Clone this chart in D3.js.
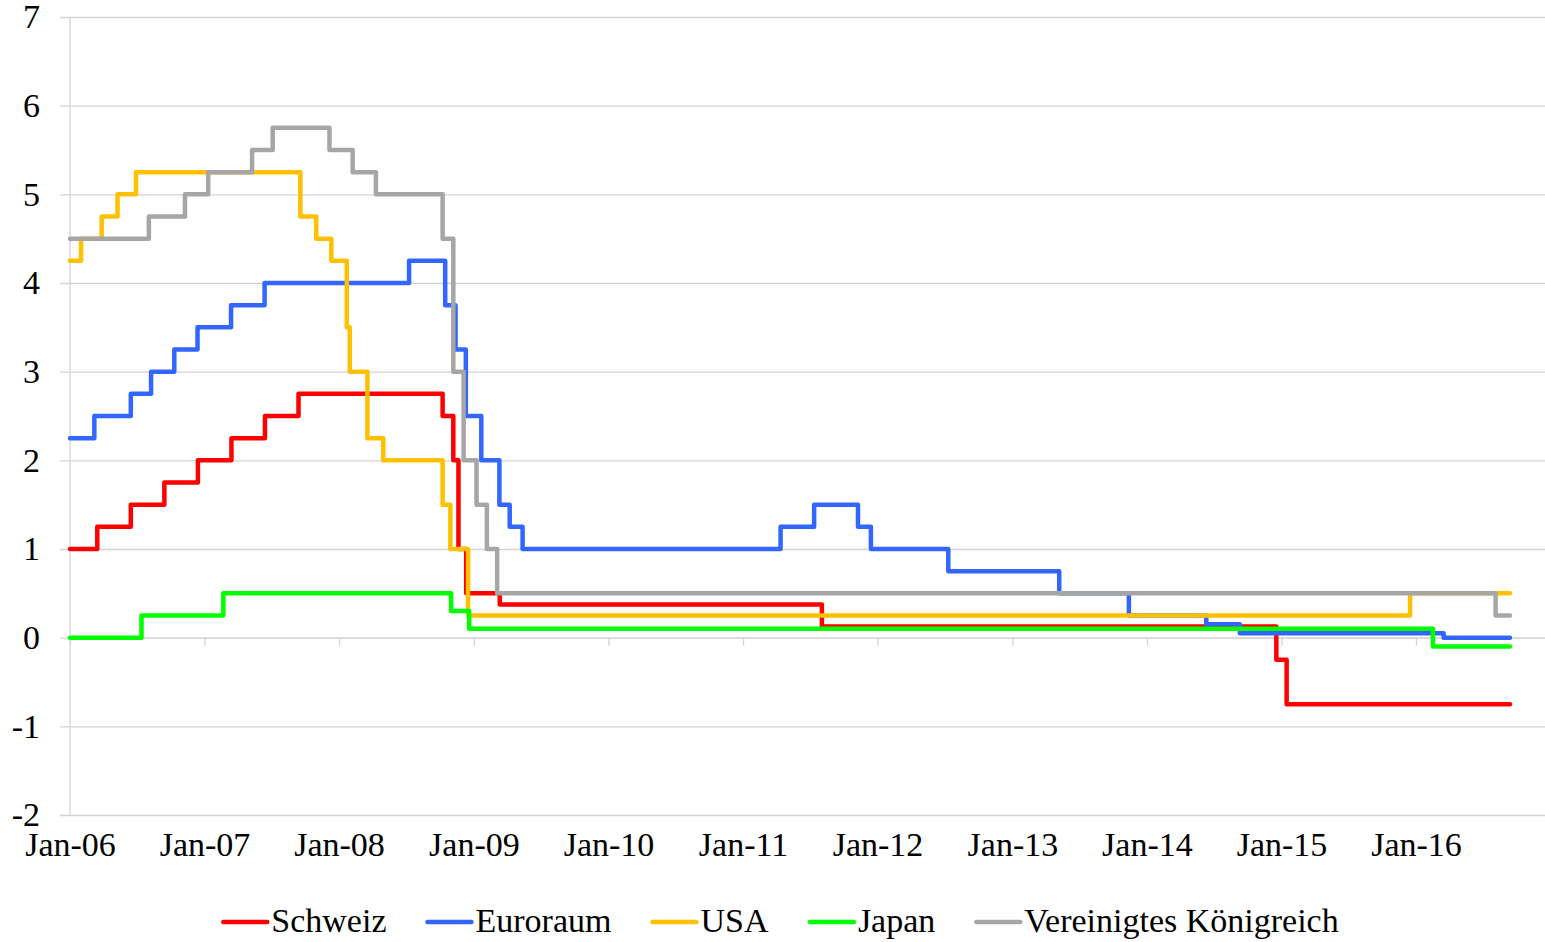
<!DOCTYPE html>
<html>
<head>
<meta charset="utf-8">
<script src="https://cdn.jsdelivr.net/npm/d3@7.9.0/dist/d3.min.js"></script>
<style>
  body { margin: 0; background: #fff; }
  svg { display: block; font-family: "Liberation Serif", "Times New Roman", serif; }
</style>
</head>
<body>
<svg id="chart" width="1545" height="942"></svg>
<script>
// Policy rates (change dates and new values), last entry = end of data
const schweiz = [
  ["2006-01-01", 1.0], ["2006-03-16", 1.25], ["2006-06-15", 1.5], ["2006-09-14", 1.75],
  ["2006-12-14", 2.0], ["2007-03-15", 2.25], ["2007-06-14", 2.5], ["2007-09-13", 2.75],
  ["2008-10-08", 2.5], ["2008-11-06", 2.0], ["2008-11-20", 1.0], ["2008-12-11", 0.5],
  ["2009-03-12", 0.375], ["2011-08-03", 0.125], ["2014-12-18", -0.25], ["2015-01-15", -0.75],
  ["2016-09-12", -0.75]
];
const euroraum = [
  ["2006-01-01", 2.25], ["2006-03-08", 2.5], ["2006-06-15", 2.75], ["2006-08-09", 3.0],
  ["2006-10-11", 3.25], ["2006-12-13", 3.5], ["2007-03-14", 3.75], ["2007-06-13", 4.0],
  ["2008-07-09", 4.25], ["2008-10-15", 3.75], ["2008-11-12", 3.25], ["2008-12-10", 2.5],
  ["2009-01-21", 2.0], ["2009-03-11", 1.5], ["2009-04-08", 1.25], ["2009-05-13", 1.0],
  ["2011-04-13", 1.25], ["2011-07-13", 1.5], ["2011-11-09", 1.25], ["2011-12-14", 1.0],
  ["2012-07-11", 0.75], ["2013-05-08", 0.5], ["2013-11-13", 0.25], ["2014-06-11", 0.15],
  ["2014-09-10", 0.05], ["2016-03-16", 0.0], ["2016-09-12", 0.0]
];
const usa = [
  ["2006-01-01", 4.25], ["2006-01-31", 4.5], ["2006-03-28", 4.75], ["2006-05-10", 5.0],
  ["2006-06-29", 5.25], ["2007-09-18", 4.75], ["2007-10-31", 4.5], ["2007-12-11", 4.25],
  ["2008-01-22", 3.5], ["2008-01-30", 3.0], ["2008-03-18", 2.25], ["2008-04-30", 2.0],
  ["2008-10-08", 1.5], ["2008-10-29", 1.0], ["2008-12-16", 0.25], ["2015-12-16", 0.5],
  ["2016-09-12", 0.5]
];
const japan = [
  ["2006-01-01", 0.0], ["2006-07-14", 0.25], ["2007-02-21", 0.5], ["2008-10-31", 0.3],
  ["2008-12-19", 0.1], ["2016-02-16", -0.1], ["2016-09-12", -0.1]
];
const vereinigtesKoenigreich = [
  ["2006-01-01", 4.5], ["2006-08-03", 4.75], ["2006-11-09", 5.0], ["2007-01-11", 5.25],
  ["2007-05-10", 5.5], ["2007-07-05", 5.75], ["2007-12-06", 5.5], ["2008-02-07", 5.25],
  ["2008-04-10", 5.0], ["2008-10-08", 4.5], ["2008-11-06", 3.0], ["2008-12-04", 2.0],
  ["2009-01-08", 1.5], ["2009-02-05", 1.0], ["2009-03-05", 0.5], ["2016-08-04", 0.25],
  ["2016-09-12", 0.25]
];

const seriesNames = ["Schweiz", "Euroraum", "USA", "Japan", "Vereinigtes Königreich"];
const seriesData = [schweiz, euroraum, usa, japan, vereinigtesKoenigreich];
const seriesColors = ["#ff0000", "#3366ff", "#ffc000", "#00ff00", "#a6a6a6"];

const yTicks = [-2, -1, 0, 1, 2, 3, 4, 5, 6, 7];
const xTickLabels = ["Jan-06", "Jan-07", "Jan-08", "Jan-09", "Jan-10", "Jan-11",
  "Jan-12", "Jan-13", "Jan-14", "Jan-15", "Jan-16"];

const parseDate = d3.timeParse("%Y-%m-%d");
const parseTick = d3.timeParse("%b-%y");

const plot = { left: 70, right: 1545, top: 17, bottom: 815 };
const fontSize = 34;
const gridColor = "#d4d4d4";

const svg = d3.select("#chart");

const xScale = d3.scaleTime()
  .domain([parseDate("2006-01-01"), parseDate("2016-12-16")])
  .range([plot.left, plot.right]);

const yScale = d3.scaleLinear()
  .domain([-2, 7])
  .range([plot.bottom, plot.top]);

// horizontal gridlines + y labels
const yAxis = svg.append("g")
  .attr("transform", `translate(${plot.left - 10},0)`)
  .call(d3.axisLeft(yScale)
    .tickValues(yTicks)
    .tickFormat((d) => String(d))
    .tickSize(-(plot.right - plot.left + 10))
    .tickPadding(20));
yAxis.select(".domain").remove();
yAxis.selectAll("line").attr("stroke", gridColor).attr("stroke-width", 1.3);
yAxis.selectAll("text")
  .attr("font-size", fontSize)
  .attr("font-family", "Liberation Serif")
  .attr("fill", "#000");

// vertical axis line
svg.append("line")
  .attr("x1", plot.left).attr("x2", plot.left)
  .attr("y1", plot.top).attr("y2", plot.bottom)
  .attr("stroke", gridColor).attr("stroke-width", 1.3);

const tickDates = xTickLabels.map((t) => parseTick(t));

// category axis at zero with tick marks
const zeroAxis = svg.append("g")
  .attr("transform", `translate(0,${yScale(0)})`)
  .call(d3.axisBottom(xScale).tickValues(tickDates).tickFormat("").tickSize(8).tickSizeOuter(0));
zeroAxis.selectAll("path, line").attr("stroke", gridColor).attr("stroke-width", 1.3);

// labels at the bottom
const xAxis = svg.append("g")
  .attr("transform", `translate(0,${plot.bottom})`)
  .call(d3.axisBottom(xScale)
    .tickValues(tickDates)
    .tickFormat((d, i) => xTickLabels[i])
    .tickSize(0)
    .tickPadding(17));
xAxis.select(".domain").remove();
xAxis.selectAll("text")
  .attr("font-size", fontSize)
  .attr("font-family", "Liberation Serif")
  .attr("fill", "#000");

// lines
const line = d3.line()
  .x((d) => xScale(parseDate(d[0])))
  .y((d) => yScale(d[1]))
  .curve(d3.curveStepAfter);

svg.append("g")
  .selectAll("path")
  .data(seriesData)
  .join("path")
  .attr("d", line)
  .attr("fill", "none")
  .attr("stroke", (d, i) => seriesColors[i])
  .attr("stroke-width", 4.5)
  .attr("stroke-linejoin", "round")
  .attr("stroke-linecap", "round");

// legend
const legend = svg.append("g").attr("transform", "translate(0,932)");
const items = legend.selectAll("g")
  .data(seriesNames)
  .join("g");
items.append("line")
  .attr("x1", 0).attr("x2", 44)
  .attr("y1", -10).attr("y2", -10)
  .attr("stroke", (d, i) => seriesColors[i])
  .attr("stroke-width", 4.5)
  .attr("stroke-linecap", "round");
items.append("text")
  .attr("x", 48)
  .attr("font-size", fontSize)
  .attr("font-family", "Liberation Serif")
  .text((d) => d);

const gap = 41;
const widths = items.nodes().map((n) => n.getBBox().width);
const total = d3.sum(widths) + gap * (widths.length - 1);
let xPos = 781 - total / 2;
items.attr("transform", (d, i) => {
  const t = `translate(${xPos},0)`;
  xPos += widths[i] + gap;
  return t;
});
</script>
</body>
</html>
